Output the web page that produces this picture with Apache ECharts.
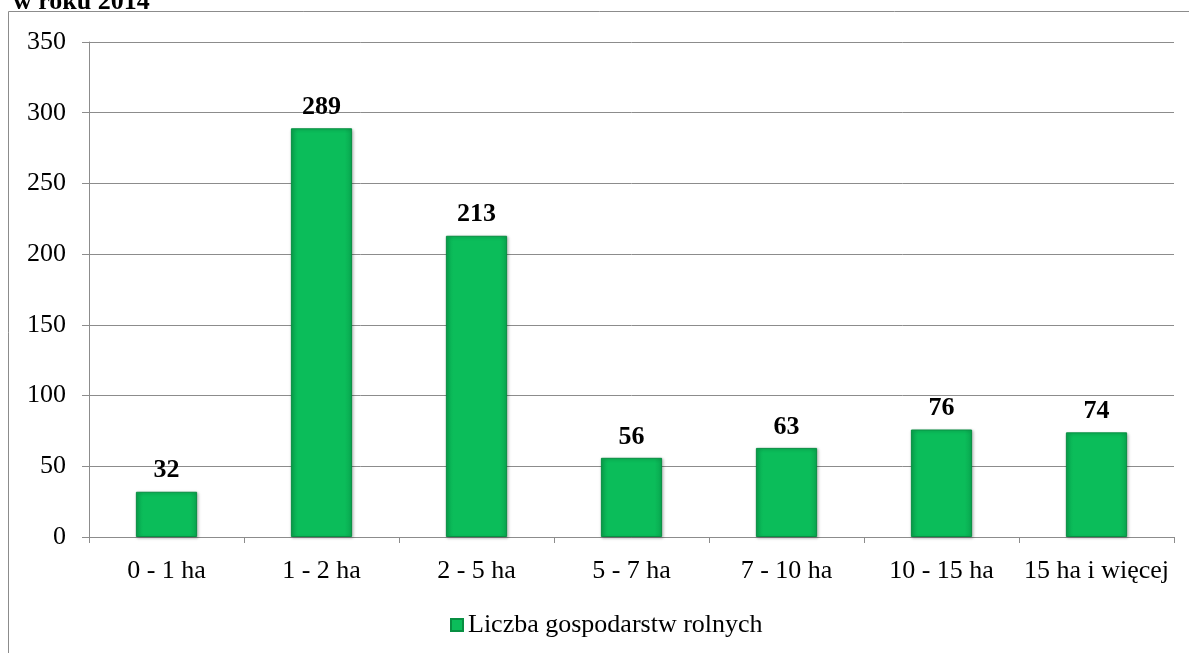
<!DOCTYPE html>
<html lang="pl">
<head>
  <meta charset="UTF-8" />
  <title>Liczba gospodarstw rolnych w roku 2014</title>
  <script src="https://cdn.jsdelivr.net/npm/echarts@6.0.0/dist/echarts.min.js"></script>
  <style>
    html, body { margin: 0; padding: 0; background: #fff; }
    #chart { width: 1189px; height: 653px; }
  </style>
</head>
<body>
  <div id="chart"></div>
  <script>
    // dane
    const categories = ['0 - 1 ha', '1 - 2 ha', '2 - 5 ha', '5 - 7 ha', '7 - 10 ha', '10 - 15 ha', '15 ha i więcej'];
    const farms = [32, 289, 213, 56, 63, 76, 74];
    const seriesName = 'Liczba gospodarstw rolnych';

    const serif = '"Liberation Serif", "DejaVu Serif", serif';
    const gray = '#8c8c8c';

    const chart = echarts.init(document.getElementById('chart'));
    chart.setOption({
      animation: false,
      textStyle: { fontFamily: serif },
      title: {
        text: 'w roku 2014',
        left: 8,
        top: -16,
        textStyle: { fontFamily: serif, fontSize: 26, fontWeight: 'bold', color: '#000' }
      },
      graphic: [{
        type: 'rect',
        shape: { x: 8.5, y: 11.5, width: 1300, height: 800 },
        style: { fill: 'none', stroke: gray, lineWidth: 1 },
        silent: true
      }],
      grid: { left: 89, right: 15, top: 42, bottom: 116 },
      legend: {
        left: 445,
        top: 607,
        icon: 'rect',
        itemWidth: 12,
        itemHeight: 12,
        itemGap: 10,
        textStyle: { fontFamily: serif, fontSize: 26, color: '#000' },
        data: [seriesName]
      },
      xAxis: {
        type: 'category',
        data: categories,
        axisLine: { lineStyle: { color: gray, width: 1 } },
        axisTick: { show: true, interval: 0, length: 6, lineStyle: { color: gray } },
        axisLabel: { interval: 0, fontFamily: serif, fontSize: 26, color: '#000', margin: 21 }
      },
      yAxis: {
        type: 'value',
        min: 0,
        max: 350,
        interval: 50,
        axisLine: { show: true, lineStyle: { color: gray, width: 1 } },
        axisTick: { show: true, length: 7, lineStyle: { color: gray } },
        axisLabel: { fontFamily: serif, fontSize: 26, color: '#000', margin: 23 },
        splitLine: { lineStyle: { color: gray, width: 1 } }
      },
      series: [{
        name: seriesName,
        type: 'bar',
        data: farms,
        barWidth: '39.5%',
        itemStyle: {
          color: new echarts.graphic.LinearGradient(0, 0, 1, 0, [
            { offset: 0, color: '#09a74f' },
            { offset: 0.12, color: '#0bbd5a' },
            { offset: 0.88, color: '#0bbd5a' },
            { offset: 1, color: '#09a74f' }
          ]),
          borderColor: '#088f42',
          borderWidth: 1,
          shadowColor: 'rgba(0,0,0,0.25)',
          shadowBlur: 3,
          shadowOffsetX: 1,
          shadowOffsetY: 1
        },
        label: {
          show: true,
          position: 'top',
          distance: 8,
          fontFamily: serif,
          fontSize: 26,
          fontWeight: 'bold',
          color: '#000'
        }
      }]
    });
  </script>
</body>
</html>
